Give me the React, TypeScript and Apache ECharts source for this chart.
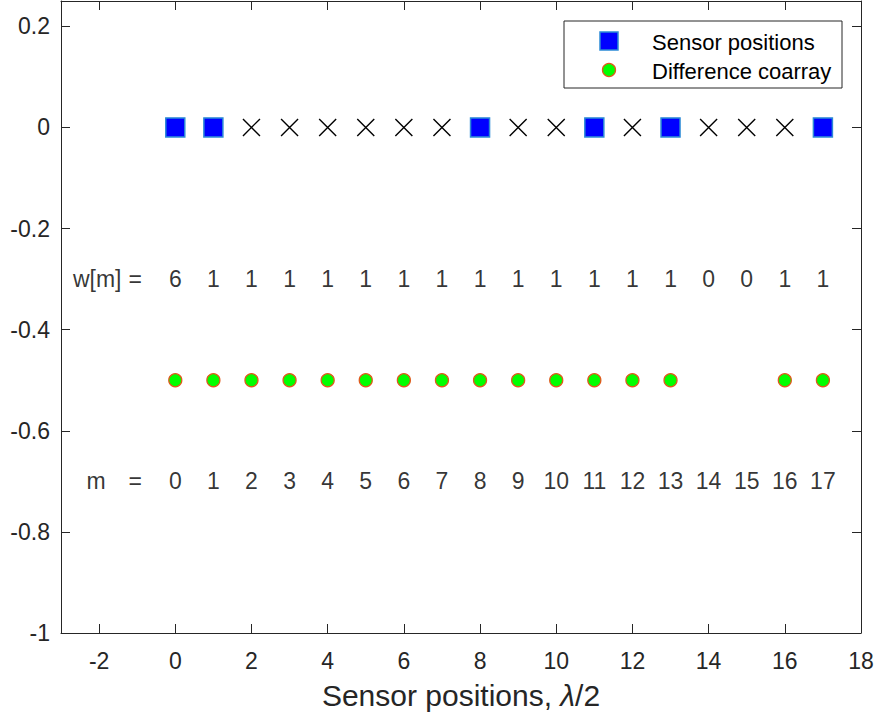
import React, { useEffect, useRef } from "react";
import * as echarts from "echarts";

const sensorPositions = [0, 1, 8, 11, 13, 17];
const holePositions = [2, 3, 4, 5, 6, 7, 9, 10, 12, 14, 15, 16];
const coarrayPositions = [0, 1, 2, 3, 4, 5, 6, 7, 8, 9, 10, 11, 12, 13, 16, 17];
const lagValues = [0, 1, 2, 3, 4, 5, 6, 7, 8, 9, 10, 11, 12, 13, 14, 15, 16, 17];
const weightValues = [6, 1, 1, 1, 1, 1, 1, 1, 1, 1, 1, 1, 1, 1, 0, 0, 1, 1];
const xTicks = [-2, 0, 2, 4, 6, 8, 10, 12, 14, 16, 18];
const yTicks = [-1, -0.8, -0.6, -0.4, -0.2, 0, 0.2];
const sensorRowY = 0;
const weightRowY = -0.3;
const coarrayRowY = -0.5;
const lagRowY = -0.7;

const FONT = "'Liberation Sans', Arial, Helvetica, sans-serif";
const AXIS_COLOR = "#262626";

export default function App() {
  const ref = useRef<HTMLDivElement>(null);
  useEffect(() => {
    if (!ref.current) return;
    const chart = echarts.init(ref.current, undefined, { renderer: "svg" });

    const textLabel = (size: number) => ({
      show: true,
      position: "inside",
      formatter: (p: any) => p.value[2],
      color: "#000",
      textBorderWidth: 0,
      fontSize: size,
      fontFamily: FONT,
    });

    const weightData = lagValues.map((m, i) => [m, weightRowY, String(weightValues[i])]);
    weightData.push([-2.05, weightRowY, "w[m]"]);
    weightData.push([-1.05, weightRowY, "="]);
    const lagData = lagValues.map((m) => [m, lagRowY, String(m)]);
    lagData.push([-2.08, lagRowY, "m"]);
    lagData.push([-1.05, lagRowY, "="]);

    const option: any = {
      animation: false,
      backgroundColor: "#fff",
      grid: { left: 61, right: 17, top: 1, bottom: 87 },
      xAxis: [
        {
          type: "value",
          min: -3,
          max: 18,
          interval: 2,
          position: "bottom",
          name: "Sensor positions, {i|λ}/2",
          nameLocation: "middle",
          nameGap: 47,
          nameTextStyle: {
            fontSize: 30,
            color: AXIS_COLOR,
            fontFamily: FONT,
            rich: { i: { fontStyle: "italic", fontSize: 30, color: AXIS_COLOR, fontFamily: FONT } },
          },
          axisLine: { onZero: false, lineStyle: { color: AXIS_COLOR, width: 1 } },
          axisTick: { inside: true, length: 9, customValues: xTicks, lineStyle: { color: AXIS_COLOR } },
          axisLabel: { customValues: xTicks, fontSize: 23, color: AXIS_COLOR, fontFamily: FONT, margin: 16 },
          splitLine: { show: false },
        },
        {
          type: "value",
          min: -3,
          max: 18,
          interval: 2,
          position: "top",
          axisLine: { onZero: false, lineStyle: { color: AXIS_COLOR, width: 1 } },
          axisTick: { inside: true, length: 9, customValues: xTicks, lineStyle: { color: AXIS_COLOR } },
          axisLabel: { show: false },
          splitLine: { show: false },
        },
      ],
      yAxis: [
        {
          type: "value",
          min: -1,
          max: 0.25,
          position: "left",
          axisLine: { show: true, onZero: false, lineStyle: { color: AXIS_COLOR, width: 1 } },
          axisTick: { show: true, inside: true, length: 9, customValues: yTicks, lineStyle: { color: AXIS_COLOR } },
          axisLabel: { customValues: yTicks, fontSize: 23, color: AXIS_COLOR, fontFamily: FONT, margin: 11 },
          splitLine: { show: false },
        },
        {
          type: "value",
          min: -1,
          max: 0.25,
          position: "right",
          axisLine: { show: true, onZero: false, lineStyle: { color: AXIS_COLOR, width: 1 } },
          axisTick: { show: true, inside: true, length: 9, customValues: yTicks, lineStyle: { color: AXIS_COLOR } },
          axisLabel: { show: false },
          splitLine: { show: false },
        },
      ],
      series: [
        {
          name: "Sensor positions",
          type: "scatter",
          symbol: "rect",
          symbolSize: 19,
          itemStyle: { color: "#0000ff", borderColor: "#2b8ad6", borderWidth: 1.5, opacity: 1 },
          data: sensorPositions.map((x) => [x, sensorRowY]),
          z: 3,
        },
        {
          name: "Holes",
          type: "scatter",
          symbol: "path://M0,0L10,10M10,0L0,10",
          symbolSize: 17,
          itemStyle: { color: "none", borderColor: "#000", borderWidth: 1.4, opacity: 1 },
          data: holePositions.map((x) => [x, sensorRowY]),
        },
        {
          name: "Difference coarray",
          type: "scatter",
          symbol: "circle",
          symbolSize: 13,
          itemStyle: { color: "#00ff00", borderColor: "#e0591c", borderWidth: 1.3, opacity: 1 },
          data: coarrayPositions.map((x) => [x, coarrayRowY]),
        },
        {
          name: "weights",
          type: "scatter",
          symbolSize: 1,
          silent: true,
          itemStyle: { color: "rgba(0,0,0,0)" },
          label: textLabel(23),
          data: weightData,
        },
        {
          name: "lags",
          type: "scatter",
          symbolSize: 1,
          silent: true,
          itemStyle: { color: "rgba(0,0,0,0)" },
          label: textLabel(23),
          data: lagData,
        },
      ],
      graphic: [
        {
          type: "rect",
          shape: { x: 564, y: 21, width: 278, height: 67 },
          style: { fill: "#fff", stroke: AXIS_COLOR, lineWidth: 1 },
          z: 10,
        },
        {
          type: "rect",
          shape: { x: 600, y: 32, width: 18, height: 18 },
          style: { fill: "#0000ff", stroke: "#2b8ad6", lineWidth: 1.5 },
          z: 11,
        },
        {
          type: "circle",
          shape: { cx: 609, cy: 70, r: 6.5 },
          style: { fill: "#00ff00", stroke: "#e0591c", lineWidth: 1.3 },
          z: 11,
        },
        {
          type: "text",
          x: 652,
          y: 42,
          style: { text: "Sensor positions", fontSize: 22, fontFamily: FONT, fill: "#000", verticalAlign: "middle", align: "left" },
          z: 11,
        },
        {
          type: "text",
          x: 652,
          y: 71,
          style: { text: "Difference coarray", fontSize: 22, fontFamily: FONT, fill: "#000", verticalAlign: "middle", align: "left" },
          z: 11,
        },
      ],
    };

    chart.setOption(option);
    return () => chart.dispose();
  }, []);

  return <div ref={ref} style={{ position: "absolute", left: 0, top: 0, width: 878, height: 720 }} />;
}
